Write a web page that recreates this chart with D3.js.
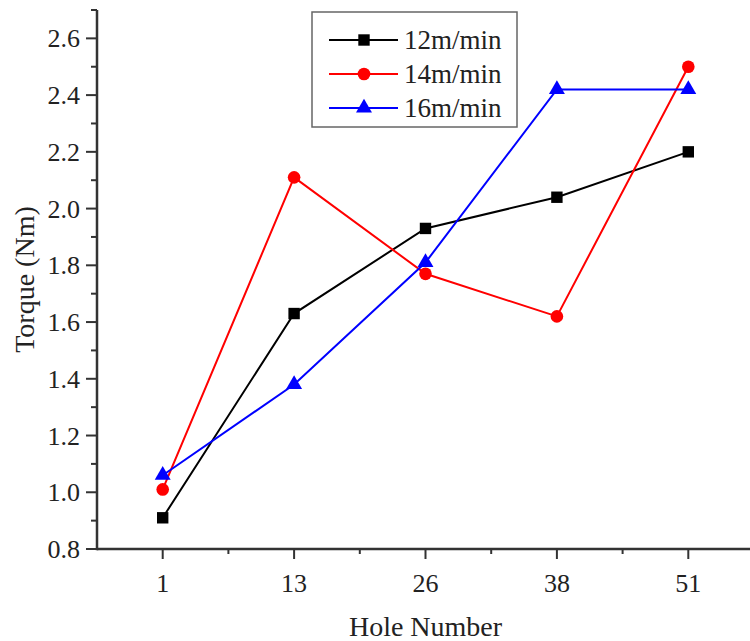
<!DOCTYPE html>
<html>
<head>
<meta charset="utf-8">
<script src="https://cdn.jsdelivr.net/npm/d3@7"></script>
<style>
  html, body { margin: 0; padding: 0; background: #fff; }
  svg text { font-family: "Liberation Serif", "Times New Roman", serif; fill: #222; }
</style>
</head>
<body>
<svg id="chart" width="750" height="641"></svg>
<script>
// Torque measured at each hole for three feed speeds
const holes = ["1", "13", "26", "38", "51"];
const series12 = [0.91, 1.63, 1.93, 2.04, 2.20];
const series14 = [1.01, 2.11, 1.77, 1.62, 2.50];
const series16 = [1.06, 1.38, 1.81, 2.42, 2.42];
const seriesNames = ["12m/min", "14m/min", "16m/min"];
const yTicks = [0.8, 1.0, 1.2, 1.4, 1.6, 1.8, 2.0, 2.2, 2.4, 2.6];

const seriesList = [
  { name: seriesNames[0], values: series12, color: "#000000", symbol: d3.symbolSquare, size: 130 },
  { name: seriesNames[1], values: series14, color: "#ff0000", symbol: d3.symbolCircle, size: 125 },
  { name: seriesNames[2], values: series16, color: "#0000ff", symbol: d3.symbolTriangle, size: 110 }
];

const svg = d3.select("#chart");
const plotLeft = 97, plotRight = 754, plotTop = 10, plotBottom = 549;

// category index -> pixel, with half a step of padding at each end
const x = d3.scaleLinear().domain([-0.5, holes.length - 0.5]).range([plotLeft, plotRight]);
const y = d3.scaleLinear().domain([0.8, 2.7]).range([plotBottom, plotTop]);

const axisColor = "#333";

// X axis
const xAxis = svg.append("g").attr("transform", `translate(0,${plotBottom})`);
xAxis.append("line").attr("x1", plotLeft).attr("x2", 750).attr("stroke", axisColor).attr("stroke-width", 2.5);
xAxis.selectAll(".major").data(holes).enter().append("line")
  .attr("x1", (d, i) => x(i)).attr("x2", (d, i) => x(i))
  .attr("y1", 0).attr("y2", 10).attr("stroke", axisColor).attr("stroke-width", 2);
xAxis.selectAll(".minor").data(d3.range(0.5, holes.length - 0.5, 1)).enter().append("line")
  .attr("x1", d => x(d)).attr("x2", d => x(d))
  .attr("y1", 0).attr("y2", 5).attr("stroke", axisColor).attr("stroke-width", 2);
xAxis.selectAll("text").data(holes).enter().append("text")
  .attr("x", (d, i) => x(i)).attr("y", 43)
  .attr("text-anchor", "middle").attr("font-size", 26).text(d => d);

// Y axis
const yAxis = svg.append("g").attr("transform", `translate(${plotLeft},0)`);
yAxis.append("line").attr("y1", plotTop).attr("y2", plotBottom + 1.2).attr("stroke", axisColor).attr("stroke-width", 2.5);
yAxis.selectAll(".major").data(yTicks).enter().append("line")
  .attr("x1", -11).attr("x2", 0).attr("y1", d => y(d)).attr("y2", d => y(d))
  .attr("stroke", axisColor).attr("stroke-width", 2);
yAxis.selectAll(".minor").data(yTicks.map(v => v + 0.1)).enter().append("line")
  .attr("x1", -6).attr("x2", 0).attr("y1", d => y(d)).attr("y2", d => y(d))
  .attr("stroke", axisColor).attr("stroke-width", 2);
yAxis.selectAll("text").data(yTicks).enter().append("text")
  .attr("x", -17).attr("y", d => y(d)).attr("dy", "0.35em")
  .attr("text-anchor", "end").attr("font-size", 26).text(d => d.toFixed(1));

// Axis titles
svg.append("text").attr("x", (plotLeft + plotRight) / 2).attr("y", 636)
  .attr("text-anchor", "middle").attr("font-size", 28).text("Hole Number");
svg.append("text").attr("transform", `translate(34,${(plotTop + plotBottom) / 2}) rotate(-90)`)
  .attr("text-anchor", "middle").attr("font-size", 28).text("Torque (Nm)");

// Series lines
const line = d3.line().x((d, i) => x(i)).y(d => y(d));
seriesList.forEach(s => {
  svg.append("path").datum(s.values).attr("d", line)
    .attr("fill", "none").attr("stroke", s.color).attr("stroke-width", 2);
});
// Series markers
seriesList.forEach(s => {
  const sym = d3.symbol().type(s.symbol).size(s.size);
  svg.append("g").selectAll("path").data(s.values).enter().append("path")
    .attr("d", sym)
    .attr("transform", (d, i) => `translate(${x(i)},${y(d)})`)
    .attr("fill", s.color);
});

// Legend
const legend = svg.append("g");
legend.append("rect").attr("x", 312).attr("y", 12).attr("width", 205).attr("height", 115)
  .attr("fill", "#fff").attr("stroke", "#666").attr("stroke-width", 1.5);
seriesList.forEach((s, i) => {
  const ly = 40 + i * 34;
  legend.append("line").attr("x1", 329).attr("x2", 398).attr("y1", ly).attr("y2", ly)
    .attr("stroke", s.color).attr("stroke-width", 2);
  legend.append("path").attr("d", d3.symbol().type(s.symbol).size(s.size)())
    .attr("transform", `translate(364,${ly})`).attr("fill", s.color);
  legend.append("text").attr("x", 404).attr("y", ly).attr("dy", "0.35em")
    .attr("font-size", 27).text(s.name);
});
</script>
</body>
</html>
